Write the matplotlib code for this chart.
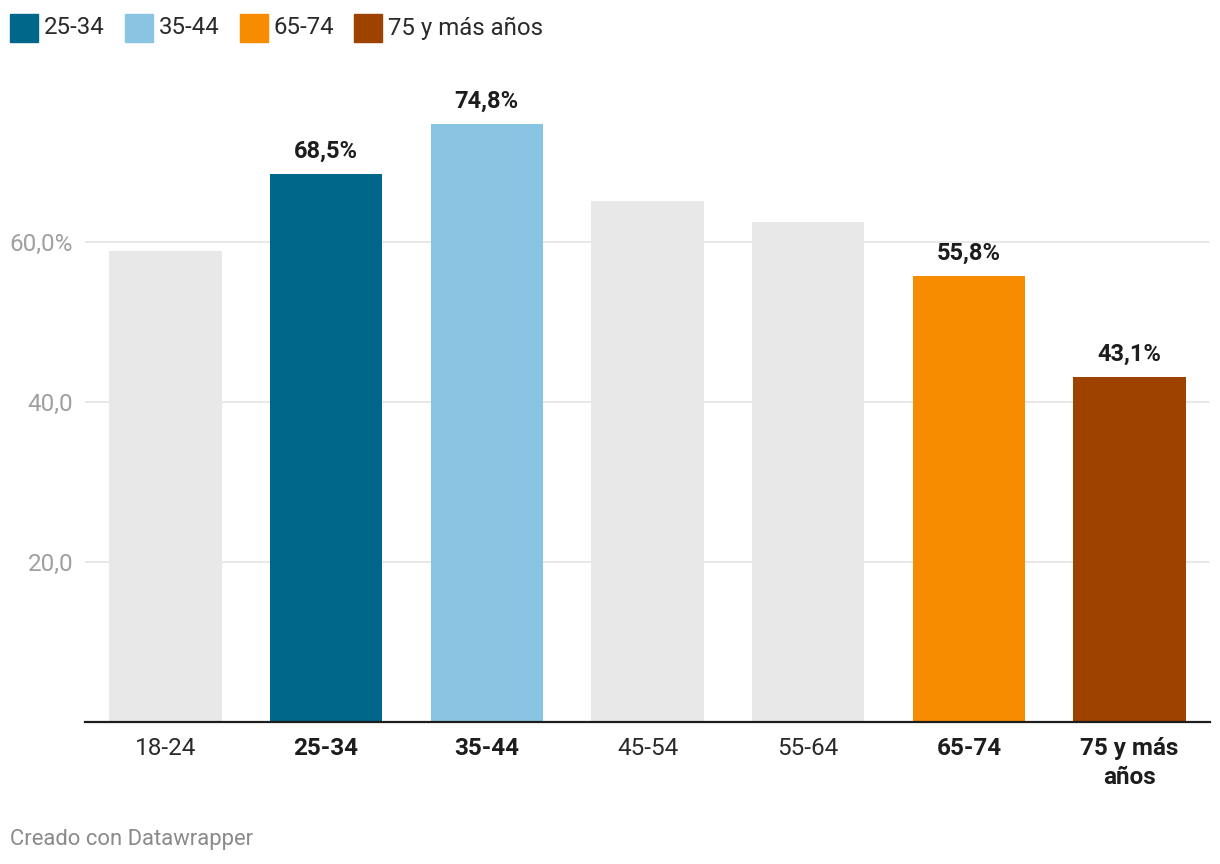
import matplotlib.pyplot as plt
from matplotlib.patches import Rectangle

plt.rcParams['font.family'] = ['Roboto', 'DejaVu Sans']

categories = ['18-24', '25-34', '35-44', '45-54', '55-64', '65-74', '75 y más años']
tick_labels = ['18-24', '25-34', '35-44', '45-54', '55-64', '65-74', '75 y más\naños']
values = [58.9, 68.5, 74.8, 65.1, 62.5, 55.8, 43.1]
highlight = {'25-34': '#00678a', '35-44': '#89c5e2', '65-74': '#f88c00', '75 y más años': '#9e4200'}
grey = '#e8e8e8'
yticks = [20, 40, 60]
ytick_labels = ['20,0', '40,0', '60,0%']

fig = plt.figure(figsize=(12.2, 8.64), dpi=100)
ax = fig.add_axes([85 / 1220, 0.1644, 1125 / 1220, 0.7406])

colors = [highlight.get(c, grey) for c in categories]
x = list(range(len(categories)))
ax.bar(x, values, width=0.70, color=colors, zorder=2)

for i, (c, v) in enumerate(zip(categories, values)):
    if c in highlight:
        ax.annotate(f'{v:.1f}%'.replace('.', ','), (i, v), xytext=(0, 8),
                    textcoords='offset points', ha='center', va='bottom',
                    fontsize=17, fontweight='bold', color='#1d1d1d')

ax.set_xlim(-0.5, len(categories) - 0.5)
ax.set_ylim(0, 80)
ax.set_yticks(yticks)
ax.set_yticklabels(ytick_labels, color='#a0a0a0', fontsize=17.5)
ax.yaxis.grid(True, color='#e4e4e4', linewidth=1.2, zorder=0)
ax.tick_params(axis='y', length=0, pad=8.5)
ax.set_xticks(x)
ax.set_xticklabels(tick_labels, fontsize=17.5, color='#2a2a2a', linespacing=1.3, va='top')
for lbl, c in zip(ax.get_xticklabels(), categories):
    if c in highlight:
        lbl.set_fontweight('bold')
        lbl.set_color('#1d1d1d')
ax.tick_params(axis='x', length=0, pad=11)
for s in ['top', 'right', 'left']:
    ax.spines[s].set_visible(False)
ax.spines['bottom'].set_color('#1d1d1d')
ax.spines['bottom'].set_linewidth(1.6)
ax.spines['bottom'].set_zorder(3)

# legend
lx = 10
for name, col in highlight.items():
    fig.patches.append(Rectangle((lx / 1220, 1 - 42 / 864), 28 / 1220, 28 / 864,
                                 transform=fig.transFigure, color=col))
    t = fig.text((lx + 34) / 1220, 1 - 28 / 864, name, fontsize=17.3, color='#2a2a2a', va='center')
    fig.canvas.draw()
    bb = t.get_window_extent()
    lx = bb.x1 + 20

fig.text(10 / 1220, 1 - 840 / 864, 'Creado con Datawrapper', fontsize=15.8, color='#8a8a8a', va='center')

fig.savefig('out.png', dpi=100)
